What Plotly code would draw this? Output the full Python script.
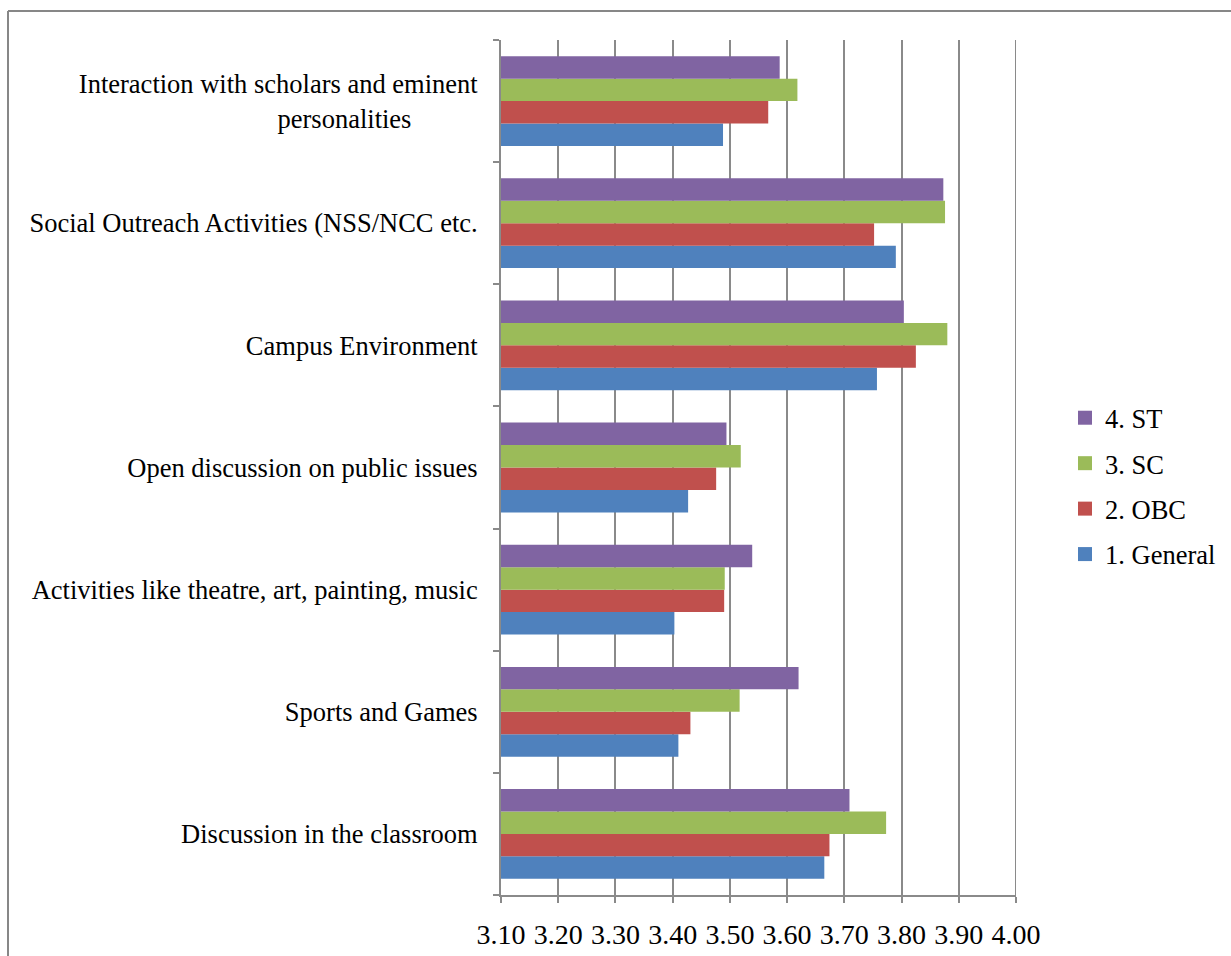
import plotly.graph_objects as go

# Categories (bottom to top) and mean scores per social group
categories = [
    "Discussion in the classroom",
    "Sports and Games",
    "Activities like theatre, art, painting, music",
    "Open discussion on public issues",
    "Campus Environment",
    "Social Outreach Activities (NSS/NCC etc.",
    "Interaction with scholars and eminent<br>personalities" + "\u00a0" * 10,
]
general = [3.665, 3.410, 3.403, 3.427, 3.757, 3.790, 3.488]
obc     = [3.674, 3.431, 3.490, 3.476, 3.825, 3.752, 3.567]
sc      = [3.773, 3.517, 3.491, 3.519, 3.880, 3.876, 3.618]
st      = [3.709, 3.620, 3.539, 3.494, 3.804, 3.873, 3.587]

series_names = ["1. General", "2. OBC", "3. SC", "4. ST"]
series_vals = [general, obc, sc, st]
colors = ["#4F81BD", "#C0504D", "#9BBB59", "#8064A2"]

x_ticks = [3.10, 3.20, 3.30, 3.40, 3.50, 3.60, 3.70, 3.80, 3.90, 4.00]

W, H = 1231, 956
ML, MR, MT, MB = 501, 215, 40, 61
font_family = "Liberation Serif, Times New Roman, serif"
grid_col = "#8a8a8a"

fig = go.Figure()
for name, vals, col in zip(series_names, series_vals, colors):
    fig.add_trace(go.Bar(
        y=categories, x=vals, name=name, orientation="h",
        marker=dict(color=col, line=dict(width=0)),
        showlegend=False,
    ))

# Legend entries: square swatches, ST listed first
for name, col in reversed(list(zip(series_names, colors))):
    fig.add_trace(go.Scatter(
        x=[None], y=[None], mode="markers", name=name,
        marker=dict(symbol="square", size=14, color=col),
        legendgroup=name, showlegend=True,
    ))

def px_to_paper_x(px):
    return (px - ML) / (W - ML - MR)

def px_to_paper_y(py):
    return (H - MB - py) / (H - MT - MB)

# Outer frame (top and left edges)
fig.add_shape(type="line", xref="paper", yref="paper",
              x0=px_to_paper_x(8), x1=px_to_paper_x(W + 5),
              y0=px_to_paper_y(11), y1=px_to_paper_y(11),
              line=dict(color="#878787", width=2))
fig.add_shape(type="line", xref="paper", yref="paper",
              x0=px_to_paper_x(8), x1=px_to_paper_x(8),
              y0=px_to_paper_y(11), y1=px_to_paper_y(H + 5),
              line=dict(color="#878787", width=2))

# Gridline at the right end of the value axis
fig.add_shape(type="line", xref="x", yref="paper",
              x0=x_ticks[-1], x1=x_ticks[-1], y0=0, y1=1,
              line=dict(color=grid_col, width=2), layer="below")

fig.update_layout(
    width=W, height=H,
    margin=dict(l=ML, r=MR, t=MT, b=MB, pad=0, autoexpand=False),
    paper_bgcolor="white", plot_bgcolor="white",
    barmode="group", bargap=0.265, bargroupgap=0,
    font=dict(family=font_family, size=26.5, color="#000000"),
    showlegend=True,
    legend=dict(
        traceorder="grouped", tracegroupgap=8,
        x=px_to_paper_x(1065), xanchor="left",
        y=px_to_paper_y(486), yanchor="middle",
        font=dict(family=font_family, size=26.5, color="#000000"),
        bgcolor="rgba(0,0,0,0)", itemwidth=30,
    ),
    xaxis=dict(
        range=[3.10, 4.00], tickvals=x_ticks,
        ticktext=[f"{v:.2f}" for v in x_ticks],
        showgrid=True, gridcolor=grid_col, gridwidth=2,
        showline=True, linecolor=grid_col, linewidth=2,
        ticks="outside", ticklen=6, tickcolor=grid_col, tickwidth=2,
        zeroline=False, tickfont=dict(size=28),
        ticklabelstandoff=7, automargin=False,
    ),
    yaxis=dict(
        type="category", categoryorder="array", categoryarray=categories,
        showgrid=False, showline=True, linecolor=grid_col, linewidth=2,
        ticks="outside", tickson="boundaries", ticklen=6,
        tickcolor=grid_col, tickwidth=2, tickfont=dict(size=26.5),
        ticklabelstandoff=16, automargin=False,
    ),
)

fig.write_html("out.html")
